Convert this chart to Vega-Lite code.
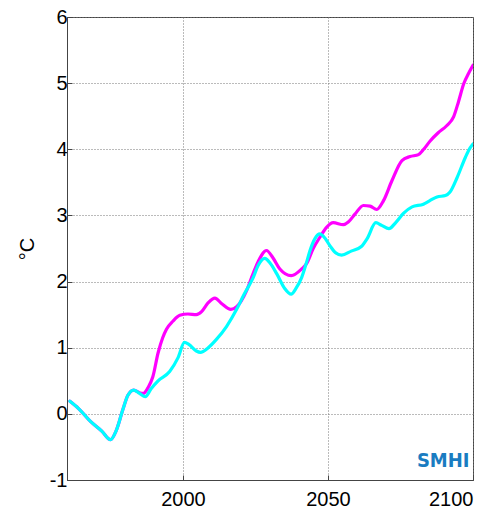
{
  "$schema": "https://vega.github.io/schema/vega-lite/v6.json",
  "autosize": {"type": "none"},
  "width": 406,
  "height": 463,
  "padding": {"left": 67, "top": 17, "right": 26, "bottom": 32},
  "background": "white",
  "config": {
    "view": {"stroke": "#444", "strokeWidth": 1},
    "font": "Liberation Sans",
    "axis": {
      "labelFont": "Liberation Sans",
      "labelFontSize": 20,
      "labelColor": "#000",
      "titleFont": "Liberation Sans",
      "titleFontSize": 20,
      "titleFontWeight": "normal",
      "titleColor": "#000",
      "domainColor": "#444",
      "tickColor": "#444",
      "tickSize": -5,
      "gridColor": "#777",
      "gridDash": [1, 2],
      "gridOpacity": 1,
      "gridWidth": 1
    }
  },
  "datasets": {
    "series": [
      {"year": 1961, "v": 0.19, "s": "high"},
      {"year": 1964, "v": 0.08, "s": "high"},
      {"year": 1968, "v": -0.11, "s": "high"},
      {"year": 1972, "v": -0.26, "s": "high"},
      {"year": 1975, "v": -0.39, "s": "high"},
      {"year": 1977, "v": -0.25, "s": "high"},
      {"year": 1979.3, "v": 0.07, "s": "high"},
      {"year": 1981, "v": 0.28, "s": "high"},
      {"year": 1983, "v": 0.36, "s": "high"},
      {"year": 1985, "v": 0.32, "s": "high"},
      {"year": 1986.3, "v": 0.31, "s": "high"},
      {"year": 1988, "v": 0.4, "s": "high"},
      {"year": 1989.6, "v": 0.56, "s": "high"},
      {"year": 1991.4, "v": 0.92, "s": "high"},
      {"year": 1993, "v": 1.15, "s": "high"},
      {"year": 1994.3, "v": 1.28, "s": "high"},
      {"year": 1996.5, "v": 1.4, "s": "high"},
      {"year": 1998.9, "v": 1.49, "s": "high"},
      {"year": 2001.7, "v": 1.51, "s": "high"},
      {"year": 2004.6, "v": 1.5, "s": "high"},
      {"year": 2006.5, "v": 1.55, "s": "high"},
      {"year": 2008.7, "v": 1.68, "s": "high"},
      {"year": 2011, "v": 1.75, "s": "high"},
      {"year": 2013.5, "v": 1.66, "s": "high"},
      {"year": 2016.5, "v": 1.58, "s": "high"},
      {"year": 2018.5, "v": 1.62, "s": "high"},
      {"year": 2021.9, "v": 1.86, "s": "high"},
      {"year": 2024, "v": 2.1, "s": "high"},
      {"year": 2025.9, "v": 2.3, "s": "high"},
      {"year": 2028.8, "v": 2.47, "s": "high"},
      {"year": 2031, "v": 2.36, "s": "high"},
      {"year": 2033.4, "v": 2.19, "s": "high"},
      {"year": 2037.3, "v": 2.09, "s": "high"},
      {"year": 2040.9, "v": 2.19, "s": "high"},
      {"year": 2042.6, "v": 2.27, "s": "high"},
      {"year": 2044.9, "v": 2.5, "s": "high"},
      {"year": 2047.2, "v": 2.67, "s": "high"},
      {"year": 2049.5, "v": 2.82, "s": "high"},
      {"year": 2051.8, "v": 2.89, "s": "high"},
      {"year": 2055.3, "v": 2.86, "s": "high"},
      {"year": 2057, "v": 2.9, "s": "high"},
      {"year": 2059.3, "v": 3.02, "s": "high"},
      {"year": 2062.2, "v": 3.15, "s": "high"},
      {"year": 2064.5, "v": 3.14, "s": "high"},
      {"year": 2066.8, "v": 3.09, "s": "high"},
      {"year": 2069.1, "v": 3.22, "s": "high"},
      {"year": 2072, "v": 3.52, "s": "high"},
      {"year": 2075.5, "v": 3.83, "s": "high"},
      {"year": 2078.3, "v": 3.89, "s": "high"},
      {"year": 2081.2, "v": 3.92, "s": "high"},
      {"year": 2083, "v": 4.0, "s": "high"},
      {"year": 2085.3, "v": 4.13, "s": "high"},
      {"year": 2088, "v": 4.25, "s": "high"},
      {"year": 2091, "v": 4.36, "s": "high"},
      {"year": 2093.3, "v": 4.49, "s": "high"},
      {"year": 2095, "v": 4.72, "s": "high"},
      {"year": 2096.8, "v": 4.99, "s": "high"},
      {"year": 2098.5, "v": 5.15, "s": "high"},
      {"year": 2100, "v": 5.27, "s": "high"},
      {"year": 1961, "v": 0.19, "s": "low"},
      {"year": 1964, "v": 0.08, "s": "low"},
      {"year": 1968, "v": -0.11, "s": "low"},
      {"year": 1972, "v": -0.26, "s": "low"},
      {"year": 1975, "v": -0.39, "s": "low"},
      {"year": 1977, "v": -0.25, "s": "low"},
      {"year": 1979.3, "v": 0.07, "s": "low"},
      {"year": 1981, "v": 0.28, "s": "low"},
      {"year": 1983, "v": 0.36, "s": "low"},
      {"year": 1985, "v": 0.31, "s": "low"},
      {"year": 1987, "v": 0.26, "s": "low"},
      {"year": 1989, "v": 0.38, "s": "low"},
      {"year": 1991.4, "v": 0.5, "s": "low"},
      {"year": 1995.4, "v": 0.64, "s": "low"},
      {"year": 1998.3, "v": 0.85, "s": "low"},
      {"year": 2000.5, "v": 1.08, "s": "low"},
      {"year": 2002, "v": 1.05, "s": "low"},
      {"year": 2004.6, "v": 0.95, "s": "low"},
      {"year": 2006, "v": 0.93, "s": "low"},
      {"year": 2008.7, "v": 1.0, "s": "low"},
      {"year": 2011.6, "v": 1.13, "s": "low"},
      {"year": 2015, "v": 1.32, "s": "low"},
      {"year": 2018.5, "v": 1.58, "s": "low"},
      {"year": 2021, "v": 1.8, "s": "low"},
      {"year": 2024.2, "v": 2.06, "s": "low"},
      {"year": 2026, "v": 2.25, "s": "low"},
      {"year": 2028.2, "v": 2.35, "s": "low"},
      {"year": 2030, "v": 2.28, "s": "low"},
      {"year": 2032.3, "v": 2.12, "s": "low"},
      {"year": 2035, "v": 1.9, "s": "low"},
      {"year": 2037.3, "v": 1.81, "s": "low"},
      {"year": 2039, "v": 1.9, "s": "low"},
      {"year": 2040.9, "v": 2.06, "s": "low"},
      {"year": 2042.6, "v": 2.29, "s": "low"},
      {"year": 2043.8, "v": 2.47, "s": "low"},
      {"year": 2045.5, "v": 2.65, "s": "low"},
      {"year": 2047.2, "v": 2.72, "s": "low"},
      {"year": 2048.5, "v": 2.68, "s": "low"},
      {"year": 2050.7, "v": 2.54, "s": "low"},
      {"year": 2052.5, "v": 2.44, "s": "low"},
      {"year": 2054.7, "v": 2.4, "s": "low"},
      {"year": 2058, "v": 2.46, "s": "low"},
      {"year": 2061.5, "v": 2.53, "s": "low"},
      {"year": 2063.5, "v": 2.65, "s": "low"},
      {"year": 2066.5, "v": 2.89, "s": "low"},
      {"year": 2068.5, "v": 2.85, "s": "low"},
      {"year": 2071, "v": 2.8, "s": "low"},
      {"year": 2073.5, "v": 2.9, "s": "low"},
      {"year": 2076, "v": 3.03, "s": "low"},
      {"year": 2079, "v": 3.13, "s": "low"},
      {"year": 2082.9, "v": 3.17, "s": "low"},
      {"year": 2085, "v": 3.22, "s": "low"},
      {"year": 2087.6, "v": 3.28, "s": "low"},
      {"year": 2090.5, "v": 3.3, "s": "low"},
      {"year": 2092, "v": 3.35, "s": "low"},
      {"year": 2094.5, "v": 3.57, "s": "low"},
      {"year": 2097.4, "v": 3.88, "s": "low"},
      {"year": 2099, "v": 4.02, "s": "low"},
      {"year": 2100, "v": 4.08, "s": "low"}
    ],
    "logo": [
      {"year": 2098.8, "v": -0.81, "label": "SMHI"}
    ]
  },
  "layer": [
    {
      "data": {"name": "series"},
      "transform": [{"filter": "datum.s === 'high'"}],
      "mark": {"type": "line", "interpolate": "monotone", "strokeWidth": 3.2, "strokeCap": "round", "strokeJoin": "round", "clip": true},
      "encoding": {
        "x": {
          "field": "year", "type": "quantitative",
          "scale": {"domain": [1960, 2100], "nice": false, "zero": false},
          "axis": {"title": null, "values": [2000, 2050, 2100], "format": "d", "labelPadding": 14, "grid": true}
        },
        "y": {
          "field": "v", "type": "quantitative",
          "scale": {"domain": [-1, 6], "nice": false, "zero": false},
          "axis": {"title": "°C", "values": [-1, 0, 1, 2, 3, 4, 5, 6], "labelExpr": "'' + datum.value", "labelPadding": 5, "titlePadding": 12, "grid": true}
        },
        "color": {
          "field": "s", "type": "nominal",
          "scale": {"domain": ["high", "low"], "range": ["#ff00ff", "#00ffff"]},
          "legend": null
        }
      }
    },
    {
      "data": {"name": "series"},
      "transform": [{"filter": "datum.s === 'low'"}],
      "mark": {"type": "line", "interpolate": "monotone", "strokeWidth": 3.2, "strokeCap": "round", "strokeJoin": "round", "clip": true},
      "encoding": {
        "x": {"field": "year", "type": "quantitative"},
        "y": {"field": "v", "type": "quantitative"},
        "color": {"field": "s", "type": "nominal", "legend": null}
      }
    },
    {
      "data": {"name": "logo"},
      "mark": {"type": "text", "align": "right", "baseline": "alphabetic", "font": "DejaVu Sans Condensed", "fontWeight": "bold", "fontSize": 20, "color": "#1a7cc1"},
      "encoding": {
        "x": {"field": "year", "type": "quantitative"},
        "y": {"field": "v", "type": "quantitative"},
        "text": {"field": "label"}
      }
    }
  ]
}
